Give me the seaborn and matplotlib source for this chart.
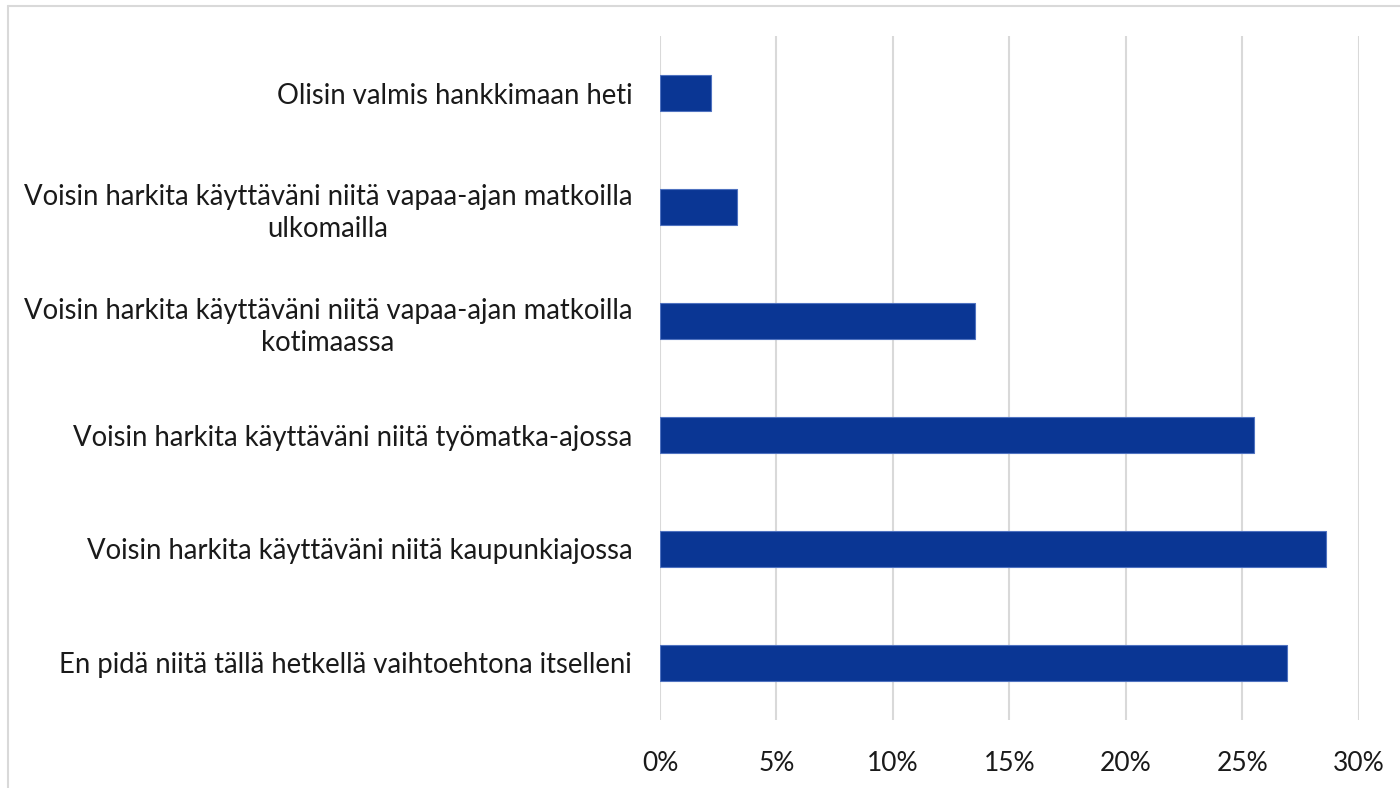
import pandas as pd
import seaborn as sns
import matplotlib.pyplot as plt
from matplotlib.ticker import PercentFormatter
from matplotlib.lines import Line2D

# Data
labels = [
    "Olisin valmis hankkimaan heti",
    "Voisin harkita käyttäväni niitä vapaa-ajan matkoilla\nulkomailla",
    "Voisin harkita käyttäväni niitä vapaa-ajan matkoilla\nkotimaassa",
    "Voisin harkita käyttäväni niitä työmatka-ajossa",
    "Voisin harkita käyttäväni niitä kaupunkiajossa",
    "En pidä niitä tällä hetkellä vaihtoehtona itselleni",
]
shares = [2.2, 3.3, 13.5, 25.5, 28.6, 26.9]
xticks = [0, 5, 10, 15, 20, 25, 30]

df = pd.DataFrame({"label": labels, "share": shares})

sns.set_theme(style="white")
plt.rcParams['font.family'] = ['Lato', 'DejaVu Sans']

fig = plt.figure(figsize=(14, 7.88), dpi=100)
ax = fig.add_axes([0.4714, 0.0863, 0.4993, 0.868])

sns.barplot(data=df, x="share", y="label", orient="h", color="#0a3694",
            width=0.316, saturation=1, edgecolor="#4f72c0", linewidth=0.8, ax=ax)

ax.set_xlim(0, 30)
ax.set_xticks(xticks)
ax.xaxis.set_major_formatter(PercentFormatter(decimals=0))
ax.grid(axis="x", color="#d9d9d9", linewidth=1.5)
ax.set_axisbelow(True)
for s in ax.spines.values():
    s.set_visible(False)
ax.set_xlabel("")
ax.set_ylabel("")
ax.tick_params(axis="x", length=0, pad=22, labelsize=19, labelcolor="#1a1a1a")
ax.tick_params(axis="y", length=0, pad=20, labelsize=19.8, labelcolor="#1a1a1a")
for t in ax.get_yticklabels():
    t.set_multialignment("center")
    t.set_linespacing(1.3)

# light chart border (top and left)
fig.add_artist(Line2D([8/1400, 8/1400], [0, 1 - 6/788], transform=fig.transFigure,
                      color="#d9d9d9", linewidth=1.5))
fig.add_artist(Line2D([8/1400, 1], [1 - 6/788, 1 - 6/788], transform=fig.transFigure,
                      color="#d9d9d9", linewidth=1.5))

fig.savefig("out.png", dpi=100)
